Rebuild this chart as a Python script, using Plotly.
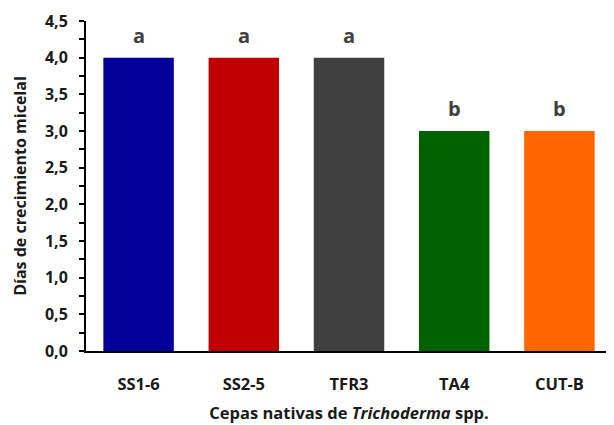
import plotly.graph_objects as go

categories = ["SS1-6", "SS2-5", "TFR3", "TA4", "CUT-B"]
values = [4.0, 4.0, 4.0, 3.0, 3.0]
letters = ["a", "a", "a", "b", "b"]
colors = ["#000099", "#C00000", "#404040", "#006100", "#FF6600"]
y_ticks = [0, 0.5, 1, 1.5, 2, 2.5, 3, 3.5, 4, 4.5]
y_tick_labels = ["0,0", "0,5", "1,0", "1,5", "2,0", "2,5", "3,0", "3,5", "4,0", "4,5"]

FONT = "Open Sans"

fig = go.Figure()
fig.add_trace(go.Bar(
    x=categories, y=values,
    marker=dict(color=colors, line=dict(width=0)),
    width=0.67,
))

for c, v, l in zip(categories, values, letters):
    fig.add_annotation(x=c, y=v, text=f"<b>{l}</b>", showarrow=False,
                       yanchor="bottom", yshift=7,
                       font=dict(family=FONT, size=20, color="#404040"))

# page body adds an ~8px offset; figure is sized/margined to compensate
fig.update_layout(
    width=606, height=417,
    margin=dict(l=78, r=2, t=13, b=74),
    paper_bgcolor="white", plot_bgcolor="white",
    showlegend=False,
    font=dict(family=FONT, color="#1a1a1a"),
)
fig.update_xaxes(
    range=[-0.5, 4.5], automargin=False,
    showline=True, linecolor="black", linewidth=2,
    ticks="", showgrid=False,
    tickfont=dict(family=FONT, size=16.5, color="#1a1a1a", weight="bold"),
    ticklabelstandoff=17,
    title=dict(text="<b>Cepas nativas de <i>Trichoderma</i> spp.</b>",
               font=dict(family=FONT, size=16.5, color="#1a1a1a"), standoff=14),
)
fig.update_yaxes(
    range=[0, 4.5], automargin=False,
    tickvals=y_ticks, ticktext=[f"<b>{t}</b>" for t in y_tick_labels],
    showline=True, linecolor="black", linewidth=2,
    ticks="outside", ticklen=5, tickwidth=1.5, tickcolor="black",
    minor=dict(dtick=0.25, ticks="outside", ticklen=5, tickwidth=1.5, tickcolor="black"),
    showgrid=False, zeroline=False,
    tickfont=dict(family=FONT, size=16, color="#1a1a1a"),
    ticklabelstandoff=8,
    title=dict(text="<b>Días de crecimiento micelal</b>",
               font=dict(family=FONT, size=16, color="#1a1a1a"), standoff=14),
)

fig.write_html("out.html")
